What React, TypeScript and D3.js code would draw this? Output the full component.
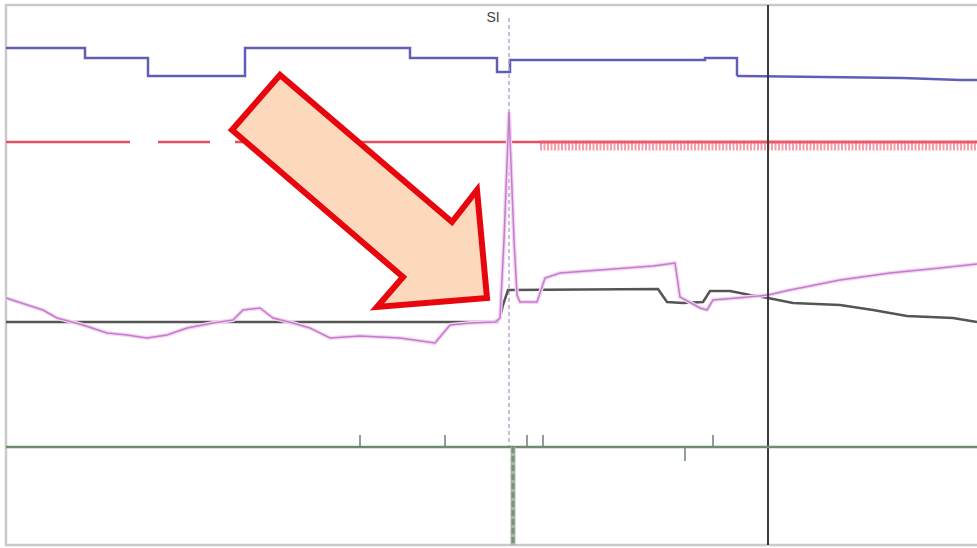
import React, { Component } from 'react';
import * as d3 from 'd3';

// time in s, amplitude in arbitrary units
const blueTrace: [number, number][] = [
  [0, 49.7], [7.9, 48.7], [14.2, 46.9], [23.9, 49.7], [40.4, 48.7], [49.1, 47.3],
  [50.4, 48.5], [69.9, 48.7], [73.1, 46.9], [89.7, 46.7], [95.4, 46.5], [97.1, 46.5]
];

const pinkTrace: [number, number][] = [
  [0, 24.7], [3.7, 23.5], [5.1, 22.7], [7.7, 22.0], [10.1, 21.2], [12.1, 21.0], [14.1, 20.7],
  [16.1, 21.0], [18.1, 21.7], [20.7, 22.2], [22.7, 22.5], [23.7, 23.5], [25.4, 23.7], [26.7, 22.7],
  [28.7, 22.2], [30.4, 21.7], [32.4, 20.7], [35.4, 20.9], [39.4, 20.7], [42.9, 20.2], [44.4, 22.0],
  [46.4, 22.2], [48.9, 22.3], [49.4, 22.7], [49.8, 30.5], [50.3, 43.3], [50.8, 30.5], [51.1, 25.0],
  [51.4, 24.3], [53.1, 24.3], [53.9, 26.7], [55.4, 27.2], [59.4, 27.5], [64.7, 27.9], [66.9, 28.2],
  [67.4, 24.8], [69.4, 23.7], [70.1, 23.5], [70.7, 24.5], [73.1, 24.7], [76.2, 25.0], [78.4, 25.5],
  [83.4, 26.5], [88.4, 27.2], [93.4, 27.7], [97.1, 28.1]
];

const blackTrace: [number, number][] = [
  [0, 22.3], [49.1, 22.3], [49.4, 22.7], [49.7, 24.0], [50.2, 25.5], [65.2, 25.6], [66.1, 24.3],
  [67.7, 24.2], [69.7, 24.3], [70.4, 25.4], [72.4, 25.4], [74.4, 25.0], [76.2, 24.7], [78.7, 24.2],
  [83.4, 24.0], [86.7, 23.5], [90.1, 22.9], [94.7, 22.7], [97.1, 22.3]
];

const redLevel = 40.3;
const redSegments: [number, number][] = [[0, 12.4], [15.2, 20.4], [22.9, 53.4]];
const redHatched: [number, number] = [53.4, 97.1];

const markerSI = 50.3;
const markerLabel = 'SI';
const cursorTime = 76.2;

const eventLevel = 9.8;
const eventUp = [35.4, 43.9, 52.1, 53.7, 70.7];
const eventDown = [67.9];
const eventBurst = 50.7;

const arrowPoints: [number, number][] = [
  [22.6, 41.5], [27.4, 47.0], [44.6, 32.3], [47.1, 35.5], [48.1, 24.7], [37.1, 23.8], [39.7, 26.8]
];

class App extends Component {
  svgRef = React.createRef<SVGSVGElement>();

  componentDidMount() {
    this.renderChart();
  }

  componentDidUpdate() {
    this.renderChart();
  }

  renderChart() {
    var width = 977, height = 548;
    var svg = d3.select(this.svgRef.current);
    svg.selectAll('*').remove();

    const x = d3.scaleLinear().domain([0, 97.1]).range([6, 977]);
    const y = d3.scaleLinear().domain([0, 54]).range([545, 5]);

    svg.append('rect').attr('width', width).attr('height', height).attr('fill', '#fff');

    // frame
    svg.append('path')
      .attr('d', `M${width},${y(54)}H${x(0)}V${y(0)}H${width}`)
      .attr('fill', 'none')
      .attr('stroke', '#c9c9c9')
      .attr('stroke-width', 2.5);

    // red trace
    svg.selectAll('.red_seg').data(redSegments).join('line')
      .attr('class', 'red_seg')
      .attr('x1', d => x(d[0])).attr('x2', d => x(d[1]))
      .attr('y1', y(redLevel)).attr('y2', y(redLevel))
      .attr('stroke', '#e4505f')
      .attr('stroke-width', 2.5);

    svg.append('line')
      .attr('x1', x(redHatched[0])).attr('x2', x(redHatched[1]))
      .attr('y1', y(redLevel) + 4).attr('y2', y(redLevel) + 4)
      .attr('stroke', '#f4a0aa')
      .attr('stroke-width', 9)
      .attr('stroke-dasharray', '2,1.5');
    svg.append('line')
      .attr('x1', x(redHatched[0])).attr('x2', x(redHatched[1]))
      .attr('y1', y(redLevel)).attr('y2', y(redLevel))
      .attr('stroke', '#ea5a6a')
      .attr('stroke-width', 3);

    const line = d3.line<[number, number]>().x(d => x(d[0])).y(d => y(d[1]));
    const step = d3.line<[number, number]>().x(d => x(d[0])).y(d => y(d[1])).curve(d3.curveStepAfter);

    svg.append('path')
      .attr('d', step(blueTrace.slice(0, 9)))
      .attr('fill', 'none')
      .attr('stroke', '#5f5fb8')
      .attr('stroke-width', 2.5);
    svg.append('path')
      .attr('d', line(blueTrace.slice(8)))
      .attr('fill', 'none')
      .attr('stroke', '#5f5fb8')
      .attr('stroke-width', 2.5);

    // SI marker
    svg.append('line')
      .attr('x1', x(markerSI)).attr('x2', x(markerSI))
      .attr('y1', 18).attr('y2', y(eventLevel))
      .attr('stroke', '#b8a8c8')
      .attr('stroke-width', 1.5)
      .attr('stroke-dasharray', '4,3');

    svg.append('text')
      .attr('x', x(markerSI) - 16)
      .attr('y', 22)
      .attr('text-anchor', 'middle')
      .style('font-family', 'Liberation Sans, Arial, sans-serif')
      .style('font-size', '14px')
      .attr('fill', '#444')
      .text(markerLabel);

    svg.append('path')
      .attr('d', line(blackTrace))
      .attr('fill', 'none')
      .attr('stroke', '#555')
      .attr('stroke-width', 2.5);

    svg.append('path')
      .attr('d', line(pinkTrace))
      .attr('fill', 'none')
      .attr('stroke', '#f4d4f4')
      .attr('stroke-width', 4);
    svg.append('path')
      .attr('d', line(pinkTrace))
      .attr('fill', 'none')
      .attr('stroke', '#c47ccc')
      .attr('stroke-width', 1.5);

    // cursor
    svg.append('line')
      .attr('x1', x(cursorTime)).attr('x2', x(cursorTime))
      .attr('y1', y(54)).attr('y2', y(0))
      .attr('stroke', '#3a3a3a')
      .attr('stroke-width', 2);

    // event channel
    svg.append('line')
      .attr('x1', x(0)).attr('x2', width)
      .attr('y1', y(eventLevel)).attr('y2', y(eventLevel))
      .attr('stroke', '#6f8c6f')
      .attr('stroke-width', 2.5);

    svg.selectAll('.ev_up').data(eventUp).join('line')
      .attr('class', 'ev_up')
      .attr('x1', d => x(d)).attr('x2', d => x(d))
      .attr('y1', y(eventLevel) - 12).attr('y2', y(eventLevel))
      .attr('stroke', '#6f7f6f')
      .attr('stroke-width', 1.5);

    svg.selectAll('.ev_down').data(eventDown).join('line')
      .attr('class', 'ev_down')
      .attr('x1', d => x(d)).attr('x2', d => x(d))
      .attr('y1', y(eventLevel)).attr('y2', y(eventLevel) + 14)
      .attr('stroke', '#6f7f6f')
      .attr('stroke-width', 1.5);

    svg.append('line')
      .attr('x1', x(eventBurst)).attr('x2', x(eventBurst))
      .attr('y1', y(eventLevel)).attr('y2', y(0))
      .attr('stroke', '#a8b8a8')
      .attr('stroke-width', 5);
    svg.append('line')
      .attr('x1', x(eventBurst)).attr('x2', x(eventBurst))
      .attr('y1', y(eventLevel)).attr('y2', y(0))
      .attr('stroke', '#7a927a')
      .attr('stroke-width', 3)
      .attr('stroke-dasharray', '6,3');

    // annotation arrow
    svg.append('polygon')
      .attr('points', arrowPoints.map(d => `${x(d[0])},${y(d[1])}`).join(' '))
      .attr('fill', '#fcd9bd')
      .attr('stroke', '#e8060e')
      .attr('stroke-width', 6)
      .attr('stroke-linejoin', 'miter');
  }

  render() {
    return (
      <svg
        ref={this.svgRef}
        width={977}
        height={548}
        style={{ position: 'absolute', left: 0, top: 0, display: 'block' }}
      />
    );
  }
}

export default App;
